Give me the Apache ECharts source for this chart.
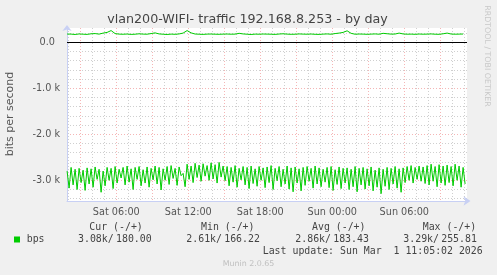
<!DOCTYPE html>
<html><head><meta charset="utf-8">
<script src="https://cdn.jsdelivr.net/npm/echarts@6/dist/echarts.min.js"></script>
<style>html,body{margin:0;padding:0;background:#f0f0f0}#c{width:497px;height:275px}</style>
</head><body><div id="c"></div>
<script>
const chartTitle = 'vlan200-WIFI- traffic 192.168.8.253 - by day';
const yAxisName = 'bits per second';
const sideNote = 'RRDTOOL / TOBI OETIKER';
const footer = 'Munin 2.0.65';
const lastUpdate = 'Last update: Sun Mar  1 11:05:02 2026';
const seriesName = 'bps';

// hours counted from Sat 00:00
const xMin = 1.892, xMax = 35.225;
const xLabelHours = [6, 12, 18, 24, 30];
const xMajorHours = [3, 6, 9, 12, 15, 18, 21, 24, 27, 30, 33];
const xMinorHours = [2, 4, 5, 7, 8, 10, 11, 13, 14, 16, 17, 19, 20, 22, 23, 25, 26, 28, 29, 31, 32, 34, 35];
const yMin = -3450, yMax = 311;
const yLabelValues = [0, -1000, -2000, -3000];
const yMajorValues = [-1000, -2000, -3000];
const yMinorValues = [200, -200, -400, -600, -800, -1200, -1400, -1600, -1800, -2200, -2400, -2600, -2800, -3200, -3400];

const sampleStartHour = 1.9;
const lowerStepHours = 1 / 6;   // 10 min
const upperStepHours = 1 / 3;   // 20 min

const lowerBps = [
 -2800,-3170,-2720,-3100,-2760,-3200,-2740,-3050,-2780,-3220,
 -2730,-3080,-2750,-3150,-2710,-2980,-2760,-3260,-2800,-3120,
 -2720,-3000,-2740,-3180,-2700,-3060,-2760,-2950,-2720,-3100,
 -2690,-3040,-2750,-3200,-2720,-2980,-2700,-3120,-2770,-3060,
 -2710,-3150,-2740,-2990,-2690,-3080,-2720,-3210,-2750,-3000,
 -2700,-3090,-2680,-2960,-2740,-3110,-2710,-2900,-2850,-3140,
 -2650,-2980,-2690,-3050,-2630,-2940,-2670,-3020,-2640,-2910,
 -2680,-3000,-2620,-2970,-2660,-3060,-2610,-2930,-2690,-3010,
 -2700,-3120,-2720,-3040,-2680,-3150,-2740,-2990,-2700,-3100,
 -2720,-3180,-2690,-3070,-2750,-3130,-2700,-3000,-2730,-3160,
 -2710,-3050,-2680,-3200,-2740,-3010,-2700,-3140,-2760,-3080,
 -2690,-3190,-2730,-3250,-2710,-3060,-2750,-3230,-2720,-3110,
 -2700,-3020,-2740,-3170,-2690,-3080,-2730,-3140,-2760,-3040,
 -2720,-3160,-2700,-3220,-2770,-3090,-2710,-3180,-2740,-3060,
 -2730,-3200,-2760,-3140,-2700,-3250,-2740,-3100,-2720,-3190,
 -2750,-3120,-2710,-3230,-2780,-3150,-2730,-3290,-2760,-3130,
 -2720,-3200,-2740,-3080,-2700,-3170,-2750,-3260,-2730,-3050,
 -2700,-3000,-2680,-3060,-2720,-2980,-2690,-3020,-2710,-3070,
 -2680,-3100,-2650,-3020,-2700,-3140,-2660,-3060,-2690,-3110,
 -2670,-3050,-2700,-3120,-2650,-3000,-2690,-3150,-2720,-3080
];
const upperBps = [
 180,178,170,182,176,172,185,190,178,200,
 215,255,190,178,175,180,172,176,185,178,
 176,190,205,182,176,170,178,174,182,200,
 255,205,180,176,172,178,180,176,174,178,
 180,176,178,195,182,176,170,178,176,180,
 178,176,172,180,185,178,174,176,182,178,
 176,180,174,172,178,182,176,190,200,215,
 250,195,176,180,178,174,178,182,176,195,
 186,178,180,200,182,176,178,174,180,176,
 178,182,176,174,185,200,180,176,178,180
];

const legendHeaders = ['Cur (-/+)', 'Min (-/+)', 'Avg (-/+)', 'Max (-/+)'];
const legendNeg = ['3.08k/', '2.61k/', '2.86k/', '3.29k/'];
const legendPos = ['180.00', '166.22', '183.43', '255.81'];

const headerX = [89.3, 201, 312, 422.7];
const negX = [78, 186.3, 295.3, 403.3];
const posX = [116, 224.2, 333.2, 441.2];

const green = '#00cc00';
const axisCol = '#c8d0f4';
const txt = '#555';
const mono = '"DejaVu Sans Mono", monospace';
const sans = '"DejaVu Sans", sans-serif';

const lowerData = lowerBps.map((v, i) => [sampleStartHour + i * lowerStepHours, v]);
const upperData = upperBps.map((v, i) => [sampleStartHour + i * upperStepHours, v]);

function fmtHour(h) {
  const d = h < 24 ? 'Sat' : 'Sun';
  const hh = String(h % 24).padStart(2, '0');
  return d + ' ' + hh + ':00';
}

const graphic = [];
graphic.push({type:'text', x:247.5, y:20, style:{text:chartTitle, font:'12.7px '+sans, fill:'#444', align:'center', verticalAlign:'middle'}});
graphic.push({type:'text', x:10.5, y:114, rotation:Math.PI/2, style:{text:yAxisName, font:'11px '+sans, fill:txt, align:'center', verticalAlign:'middle'}});
graphic.push({type:'text', x:487, y:56, rotation:-Math.PI/2, style:{text:sideNote, font:'7.9px '+sans, fill:'#c8c8c8', align:'center', verticalAlign:'middle'}});
graphic.push({type:'text', x:248.5, y:264.3, style:{text:footer, font:'7.9px '+sans, fill:'#c0c0c0', align:'center', verticalAlign:'middle'}});
legendHeaders.forEach((t, i) => graphic.push({type:'text', x:headerX[i], y:227.3, style:{text:t, font:'9.9px '+mono, fill:'#444', align:'left', verticalAlign:'middle'}}));
legendNeg.forEach((t, i) => graphic.push({type:'text', x:negX[i], y:239.3, style:{text:t, font:'9.9px '+mono, fill:'#444', align:'left', verticalAlign:'middle'}}));
legendPos.forEach((t, i) => graphic.push({type:'text', x:posX[i], y:239.3, style:{text:t, font:'9.9px '+mono, fill:'#444', align:'left', verticalAlign:'middle'}}));
graphic.push({type:'rect', shape:{x:14, y:236.5, width:6, height:6}, style:{fill:green}});
graphic.push({type:'text', x:26.7, y:239.3, style:{text:seriesName, font:'9.9px '+mono, fill:'#444', align:'left', verticalAlign:'middle'}});
graphic.push({type:'text', x:482.7, y:251.7, style:{text:lastUpdate, font:'9.9px '+mono, fill:'#444', align:'right', verticalAlign:'middle'}});

const chart = echarts.init(document.getElementById('c'), null, {renderer:'canvas'});
chart.setOption({
  backgroundColor:'#f0f0f0',
  animation:false,
  grid:{left:67, top:28, width:400, height:173, show:true, backgroundColor:'#ffffff', borderWidth:0},
  xAxis:[
    {type:'value', min:xMin, max:xMax,
     axisLine:{show:true, onZero:false, lineStyle:{color:axisCol, width:1}, symbol:['none','arrow'], symbolSize:[7,7], symbolOffset:[0,3.5]},
     axisTick:{show:false, customValues:xMajorHours},
     axisLabel:{show:true, customValues:xLabelHours, formatter:v => fmtHour(v), color:txt, fontFamily:sans, fontSize:9.7, margin:6},
     splitLine:{show:true, lineStyle:{color:'rgba(235,110,110,0.5)', type:[1,2], width:1}}, z:1},
    {type:'value', min:xMin, max:xMax, gridIndex:0,
     axisLine:{show:false, onZero:false}, axisLabel:{show:false},
     axisTick:{show:false, customValues:xMinorHours},
     splitLine:{show:true, lineStyle:{color:'#cfcfcf', type:[1,2], width:1}}, z:0}
  ],
  yAxis:[
    {type:'value', min:yMin, max:yMax,
     axisLine:{show:true, onZero:false, lineStyle:{color:axisCol, width:1}, symbol:['none','arrow'], symbolSize:[7,6], symbolOffset:[0,3]},
     axisTick:{show:false, customValues:yMajorValues},
     axisLabel:{show:true, customValues:yLabelValues, color:txt, fontFamily:sans, fontSize:9.7, margin:7,
       formatter:v => v === 0 ? '{z|0.0}' : (v/1000).toFixed(1) + ' k',
       rich:{z:{color:txt, fontFamily:sans, fontSize:9.7, padding:[0,5,0,0]}}},
     splitLine:{show:true, lineStyle:{color:'rgba(235,110,110,0.5)', type:[1,2], width:1}}, z:1},
    {type:'value', min:yMin, max:yMax,
     axisLine:{show:false, onZero:false}, axisLabel:{show:false},
     axisTick:{show:false, customValues:yMinorValues},
     splitLine:{show:true, lineStyle:{color:'#cfcfcf', type:[1,2], width:1}}, z:0},
    {type:'value', min:yMin, max:yMax,
     axisLine:{show:false, onZero:false}, axisLabel:{show:false},
     axisTick:{show:false, customValues:[0]},
     splitLine:{show:true, lineStyle:{color:'#000000', type:'solid', width:1}}, z:2}
  ],
  series:[
    {type:'line', name:seriesName, data:lowerData, xAxisIndex:0, yAxisIndex:0, showSymbol:false, symbol:'none',
     lineStyle:{color:green, width:1}, z:3},
    {type:'line', name:seriesName, data:upperData, xAxisIndex:0, yAxisIndex:0, showSymbol:false, symbol:'none',
     lineStyle:{color:green, width:1}, z:3}
  ],
  graphic: graphic
});
</script>
</body></html>
